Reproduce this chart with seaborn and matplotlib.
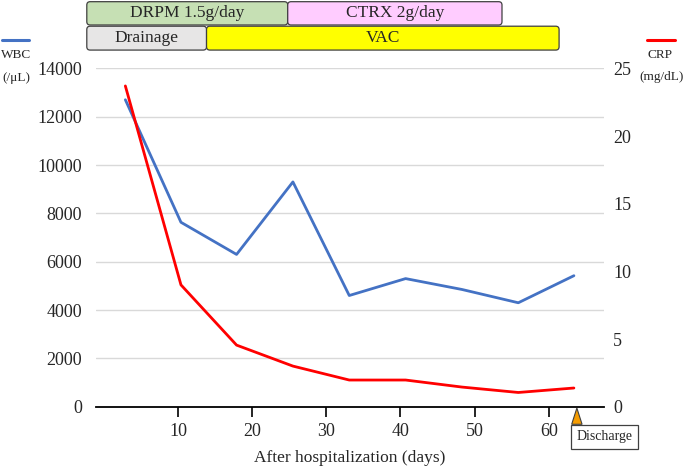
import matplotlib
matplotlib.use("Agg")
import matplotlib.pyplot as plt
import matplotlib.transforms as mtransforms
from matplotlib.patches import FancyBboxPatch, Polygon
from matplotlib.lines import Line2D
import pandas as pd
import seaborn as sns

# data
days = [2.9, 10.4, 17.9, 25.5, 33.1, 40.7, 48.3, 55.9, 63.4]
wbc = [12700, 7630, 6300, 9300, 4600, 5300, 4850, 4300, 5420]
crp = [23.7, 9.0, 4.55, 3.0, 1.97, 1.97, 1.45, 1.05, 1.38]
discharge_day = 63.8

# treatment bars: (label, start day, end day, colour)
drug_bars = [("DRPM 1.5g/day", -2.3, 24.8, "#C6E0B4"),
             ("CTRX 2g/day", 24.8, 53.7, "#FFCCFF")]
care_bars = [("Drainage", -2.3, 13.85, "#E7E6E6"),
             ("VAC", 13.85, 61.4, "#FFFF00")]

df = pd.DataFrame({"day": days, "WBC": wbc, "CRP": crp})

sns.set_theme(style="white")
plt.rcParams["font.family"] = ["Liberation Serif", "DejaVu Serif"]

fig = plt.figure(figsize=(6.85, 4.68), dpi=100)
ax = fig.add_axes([0.1397, 0.131, 0.7425, 0.723])
ax2 = ax.twinx()

sns.lineplot(data=df, x="day", y="WBC", ax=ax, color="#4472C4", linewidth=2.0)
sns.lineplot(data=df, x="day", y="CRP", ax=ax2, color="#FF0000", linewidth=2.0)

ax.set_xlim(-1.1, 67.5)
ax.set_ylim(0, 14000)
ax2.set_ylim(0, 25)
ax.set_yticks(range(0, 14001, 2000))
ax2.set_yticks(range(0, 26, 5))
ax.set_xticks(range(10, 61, 10))
ax.grid(axis="y", color="#D9D9D9", linewidth=1.0)
ax.set_axisbelow(True)

for a in (ax, ax2):
    for s in ("left", "right", "top"):
        a.spines[s].set_visible(False)
    a.set_ylabel("")
ax2.spines["bottom"].set_visible(False)
ax.spines["bottom"].set_color("black")
ax.spines["bottom"].set_linewidth(1.3)

ax.tick_params(axis="x", direction="out", length=7.5, width=1.2, color="black",
               pad=4.5, labelsize=13, bottom=True)
ax.tick_params(axis="y", length=0, pad=10, labelsize=13)
ax2.tick_params(axis="y", length=0, pad=6.5, labelsize=13)
ax.set_xlabel("After hospitalization (days)", fontsize=12.5, labelpad=7)

# treatment bars above the plot
blend = mtransforms.blended_transform_factory(ax.transData, fig.transFigure)
for rows, (y0, y1) in ((drug_bars, (0.9466, 0.9964)), (care_bars, (0.893, 0.944))):
    for label, start, end, colour in rows:
        box = FancyBboxPatch((start, y0), end - start, y1 - y0,
                             boxstyle="round,pad=0,rounding_size=0.45",
                             mutation_aspect=0.016, transform=blend,
                             facecolor=colour, edgecolor="#404040",
                             linewidth=0.9, clip_on=False)
        fig.add_artist(box)
        fig.text(0, (y0 + y1) / 2, label, transform=blend, fontsize=12.5,
                 ha="center", va="center")
        fig.texts[-1].set_x((start + end) / 2)

# discharge marker
tri_blend = mtransforms.blended_transform_factory(ax.transData, ax.transAxes)
tri = Polygon([(discharge_day, -0.004), (discharge_day - 0.7, -0.052),
               (discharge_day + 0.7, -0.052)], closed=True, transform=tri_blend,
              facecolor="#F59C00", edgecolor="#404040", linewidth=0.8, clip_on=False)
ax.add_patch(tri)
ax.text(discharge_day - 0.1, -0.0895, "Discharge", transform=tri_blend,
        ha="left", va="center", fontsize=10,
        bbox=dict(boxstyle="square,pad=0.4", facecolor="white",
                  edgecolor="#404040", linewidth=0.9))

# legend keys in the corners
fig.add_artist(Line2D([0.003, 0.042], [0.915, 0.915], transform=fig.transFigure,
                      color="#4472C4", linewidth=2.2))
fig.text(0.024, 0.882, "WBC", fontsize=9.5, ha="center", va="center")
fig.text(0.024, 0.834, "(/\u03bcL)", fontsize=9.5, ha="center", va="center")
fig.add_artist(Line2D([0.944, 0.985], [0.915, 0.915], transform=fig.transFigure,
                      color="#FF0000", linewidth=2.2))
fig.text(0.963, 0.882, "CRP", fontsize=9.5, ha="center", va="center")
fig.text(0.966, 0.836, "(mg/dL)", fontsize=9.5, ha="center", va="center")

fig.savefig("out.png", dpi=100)
